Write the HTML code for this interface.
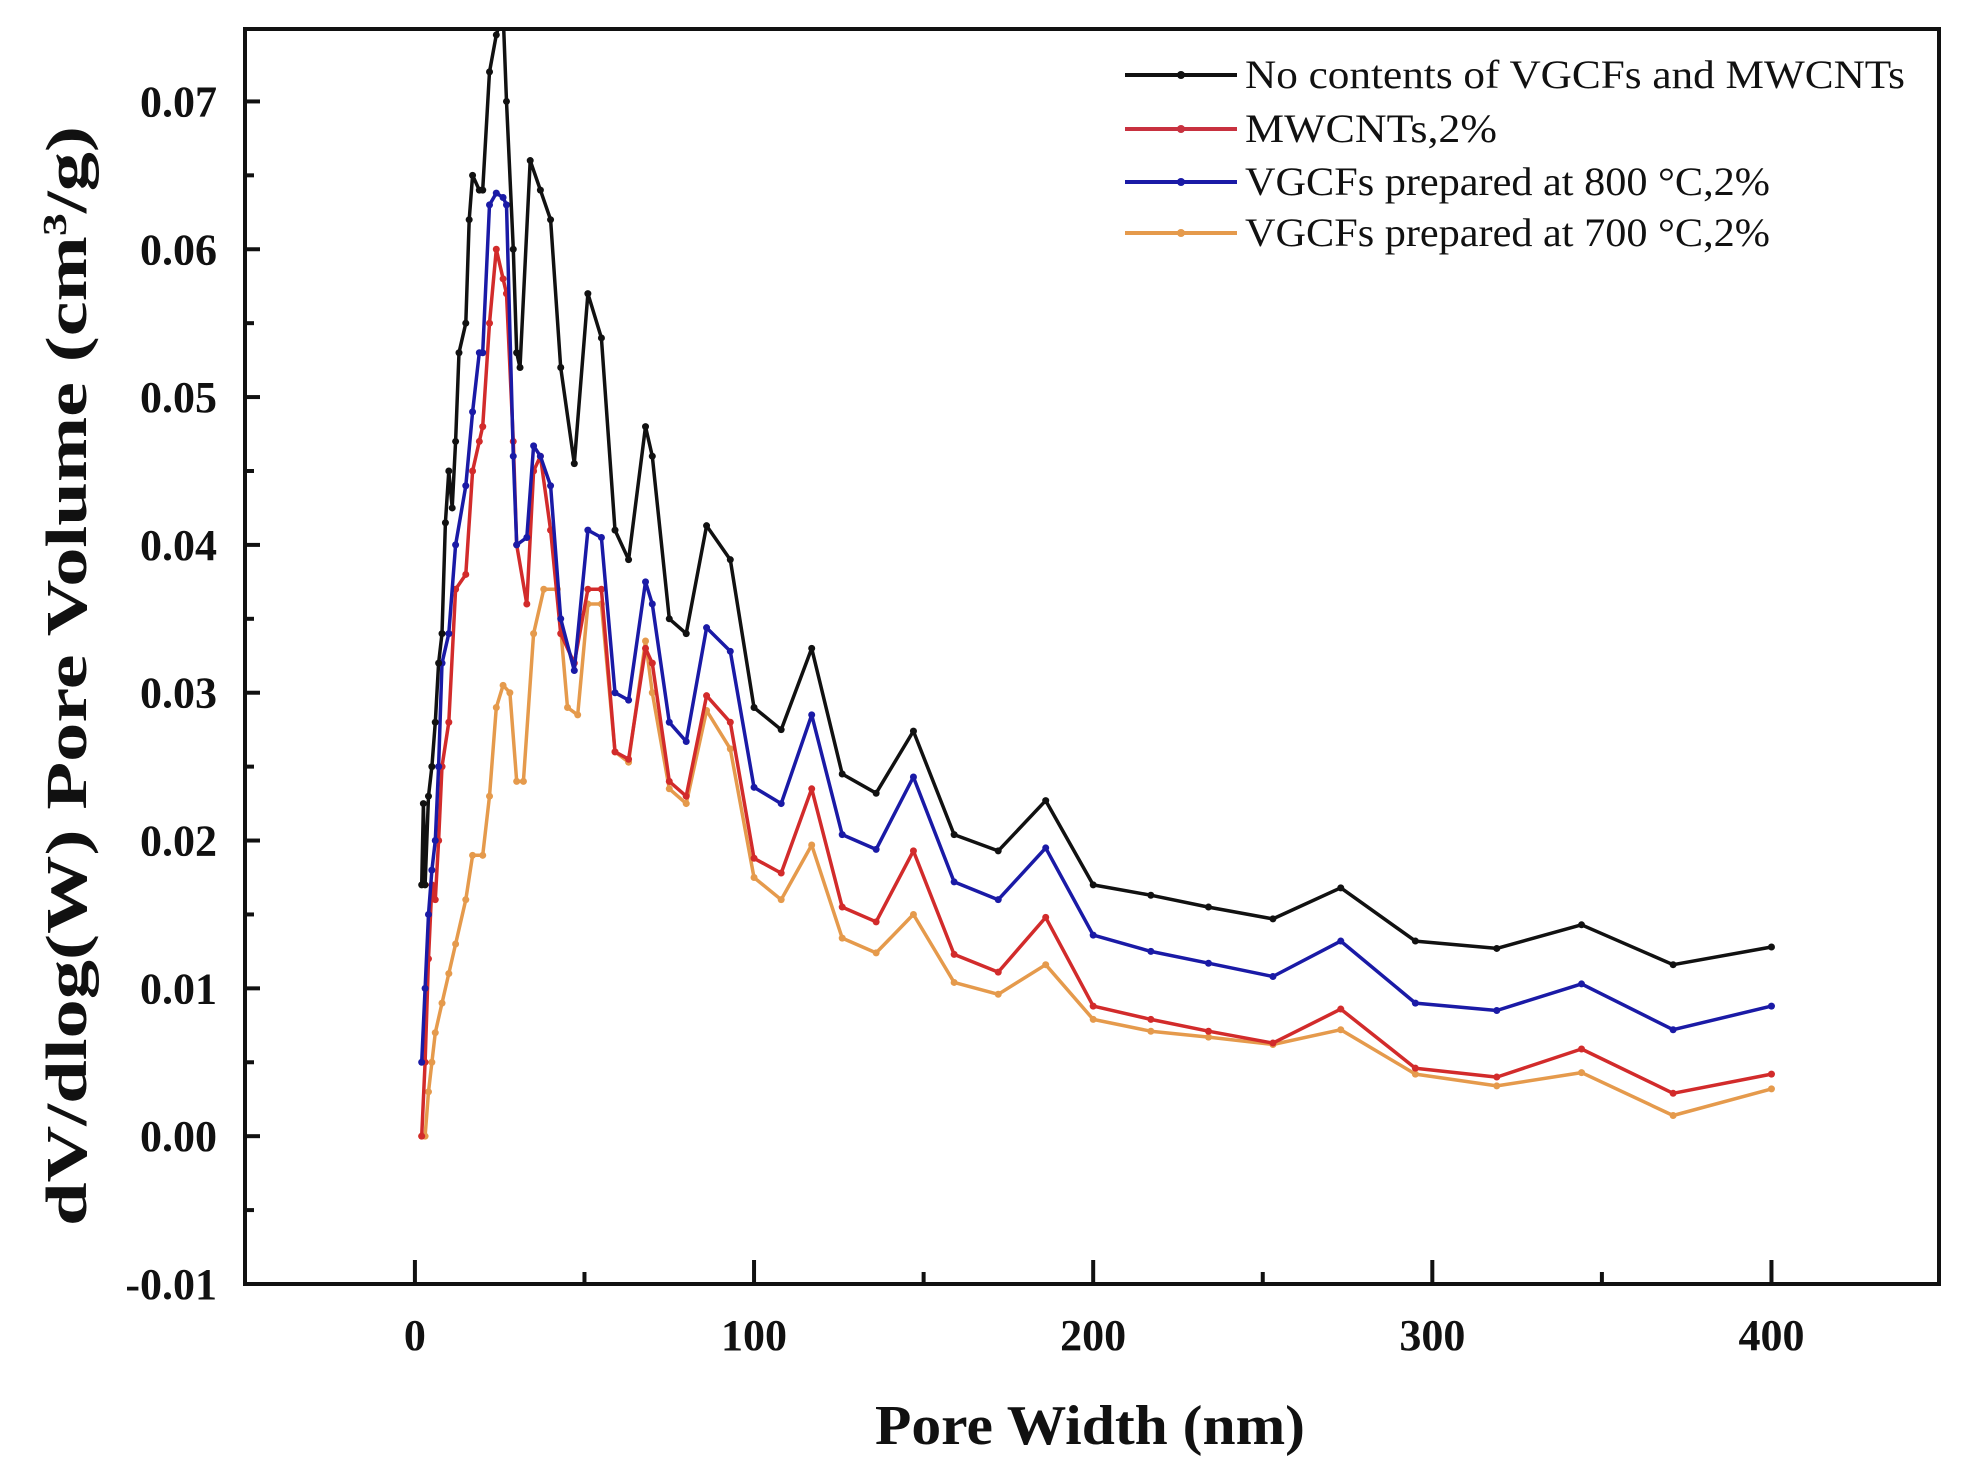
<!DOCTYPE html>
<html><head><meta charset="utf-8"><style>
html,body{margin:0;padding:0;background:#fff;}
svg{display:block;font-family:"Liberation Serif",serif;}
</style></head><body>
<svg id="chart" width="1961" height="1477" viewBox="0 0 1961 1477" xmlns="http://www.w3.org/2000/svg">
<defs><clipPath id="plotclip"><rect x="245" y="29" width="1699" height="1255"/></clipPath></defs>
<g id="series" clip-path="url(#plotclip)"></g>
<rect x="245" y="29" width="1694" height="1255" fill="none" stroke="#111" stroke-width="4"/>
<g id="axes"></g>
<text x="1090" y="1444" text-anchor="middle" font-size="56" font-weight="bold" fill="#111" textLength="430" lengthAdjust="spacingAndGlyphs">Pore Width (nm)</text>
<text transform="translate(86,676) rotate(-90)" text-anchor="middle" font-size="58" font-weight="bold" fill="#111" textLength="1100" lengthAdjust="spacingAndGlyphs">dV/dlog(W) Pore Volume (cm<tspan font-size="34" dy="-20">3</tspan><tspan dy="20">/g)</tspan></text>
<g id="legend"></g>
</svg>
<script>
const blackX=[2,2.5,3,4,5,6,7,8,9,10,11,12,13,15,16,17,19,20,22,24,26,27,29,30,31,34,37,40,43,47,51,55,59,63,68,70,75,80,86,93,100,108,117,126,136,147,159,172,186,200,217,234,253,273,295,319,344,371,400];
const blackY=[0.017,0.0225,0.017,0.023,0.025,0.028,0.032,0.034,0.0415,0.045,0.0425,0.047,0.053,0.055,0.062,0.065,0.064,0.064,0.072,0.0745,0.076,0.07,0.06,0.053,0.052,0.066,0.064,0.062,0.052,0.0455,0.057,0.054,0.041,0.039,0.048,0.046,0.035,0.034,0.0413,0.039,0.029,0.0275,0.033,0.0245,0.0232,0.0274,0.0204,0.0193,0.0227,0.017,0.0163,0.0155,0.0147,0.0168,0.0132,0.0127,0.0143,0.0116,0.0128];
const redX=[2,3,4,5,6,7,8,10,12,15,17,19,20,22,24,26,27,29,30,33,35,37,40,43,47,51,55,59,63,68,70,75,80,86,93,100,108,117,126,136,147,159,172,186,200,217,234,253,273,295,319,344,371,400];
const redY=[0.0,0.005,0.012,0.017,0.016,0.02,0.025,0.028,0.037,0.038,0.045,0.047,0.048,0.055,0.06,0.058,0.057,0.047,0.04,0.036,0.045,0.046,0.041,0.034,0.032,0.037,0.037,0.026,0.0255,0.033,0.032,0.024,0.023,0.0298,0.028,0.0188,0.0178,0.0235,0.0155,0.0145,0.0193,0.0123,0.0111,0.0148,0.0088,0.0079,0.0071,0.0063,0.0086,0.0046,0.004,0.0059,0.0029,0.0042];
const blueX=redX;
const blueY=[0.005,0.01,0.015,0.018,0.02,0.025,0.032,0.034,0.04,0.044,0.049,0.053,0.053,0.063,0.0638,0.0635,0.063,0.046,0.04,0.0405,0.0467,0.046,0.044,0.035,0.0315,0.041,0.0405,0.03,0.0295,0.0375,0.036,0.028,0.0267,0.0344,0.0328,0.0236,0.0225,0.0285,0.0204,0.0194,0.0243,0.0172,0.016,0.0195,0.0136,0.0125,0.0117,0.0108,0.0132,0.009,0.0085,0.0103,0.0072,0.0088];
const orangeX=[2,3,4,5,6,8,10,12,15,17,20,22,24,26,28,30,32,35,38,42,45,48,51,55,59,63,68,70,75,80,86,93,100,108,117,126,136,147,159,172,186,200,217,234,253,273,295,319,344,371,400];
const orangeY=[0.0,0.0,0.003,0.005,0.007,0.009,0.011,0.013,0.016,0.019,0.019,0.023,0.029,0.0305,0.030,0.024,0.024,0.034,0.037,0.037,0.029,0.0285,0.036,0.036,0.026,0.0253,0.0335,0.03,0.0235,0.0225,0.0288,0.0262,0.0175,0.016,0.0197,0.0134,0.0124,0.015,0.0104,0.0096,0.0116,0.0079,0.0071,0.0067,0.0062,0.0072,0.0042,0.0034,0.0043,0.0014,0.0032];
const yTickLabels=["-0.01","0.00","0.01","0.02","0.03","0.04","0.05","0.06","0.07"];
const xTickLabels=["0","100","200","300","400"];
const seriesNames=["No contents of VGCFs and MWCNTs","MWCNTs,2%","VGCFs prepared at 800 °C,2%","VGCFs prepared at 700 °C,2%"];

const NS="http://www.w3.org/2000/svg";
const X0=245,X1=1939,Y0=1284,Y1=29,XMIN=-50.1,XMAX=449.4,YMIN=-0.01,YMAX=0.0749;
function sx(v){return X0+(v-XMIN)/(XMAX-XMIN)*(X1-X0);}
function sy(v){return Y0-(v-YMIN)/(YMAX-YMIN)*(Y0-Y1);}
function mk(tag,attrs,parent){const e=document.createElementNS(NS,tag);for(const k in attrs)e.setAttribute(k,attrs[k]);parent.appendChild(e);return e;}

const axes=document.getElementById('axes');
yTickLabels.forEach((t)=>{const v=parseFloat(t);const y=sy(v);
  const tk=mk('line',{x1:X0,x2:X0+15,y1:y,y2:y,stroke:'#111','stroke-width':4},axes);
  
  
  const m=sy(v+0.005);
  if(m>Y1){const mt=mk('line',{x1:X0,x2:X0+9,y1:m,y2:m,stroke:'#111','stroke-width':4},axes);
    
    }
  const tx=mk('text',{x:217,y:y+15,'text-anchor':'end','font-size':44,'font-weight':'bold',fill:'#111'},axes);
  tx.textContent=t;
  
  
});
xTickLabels.forEach((t)=>{const v=parseFloat(t);const x=sx(v);
  const tk=mk('line',{x1:x,x2:x,y1:Y0,y2:Y0-24,stroke:'#111','stroke-width':4},axes);
  
  
  const m=sx(v+50);
  if(m<X1){const mt=mk('line',{x1:m,x2:m,y1:Y0,y2:Y0-12,stroke:'#111','stroke-width':4},axes);
    
    }
  const tx=mk('text',{x:x,y:Y0+66,'text-anchor':'middle','font-size':44,'font-weight':'bold',fill:'#111'},axes);
  tx.textContent=t;
  
  
});

const series=[
 {name:'series-700c',xs:orangeX,ys:orangeY,c:'#e59a4c'},
 {name:'series-mwcnts',xs:redX,ys:redY,c:'#d22b2b'},
 {name:'series-800c',xs:blueX,ys:blueY,c:'#1a1aa6'},
 {name:'series-no-content',xs:blackX,ys:blackY,c:'#111111'}];
const sg=document.getElementById('series');
series.forEach(s=>{
  const g=mk('g',{},sg);
  
  
  const pts=s.xs.map((x,i)=>sx(x).toFixed(1)+','+sy(s.ys[i]).toFixed(1)).join(' ');
  const pl=mk('polyline',{points:pts,fill:'none',stroke:s.c,'stroke-width':3.5,'stroke-linejoin':'round'},g);
  
  
  s.xs.forEach((x,i)=>{const p=mk('circle',{cx:sx(x),cy:sy(s.ys[i]),r:3.5,fill:s.c},g);
    
    });
});

const lg=document.getElementById('legend');
const legColors=['#111111','#c8313f','#1a1aa6','#e59a4c'];
const legY=[75,129,182,233];
const legW=[660,252,525,525];
seriesNames.forEach((n,i)=>{
  const g=mk('g',{},lg);
  
  
  mk('line',{x1:1125,x2:1237,y1:legY[i],y2:legY[i],stroke:legColors[i],'stroke-width':4},g);
  mk('circle',{cx:1181,cy:legY[i],r:4,fill:legColors[i]},g);
  const t=mk('text',{x:1245,y:legY[i]+13,'font-size':40,fill:'#111',textLength:legW[i],lengthAdjust:'spacingAndGlyphs'},g);
  t.textContent=n;
});
</script>
</body></html>
